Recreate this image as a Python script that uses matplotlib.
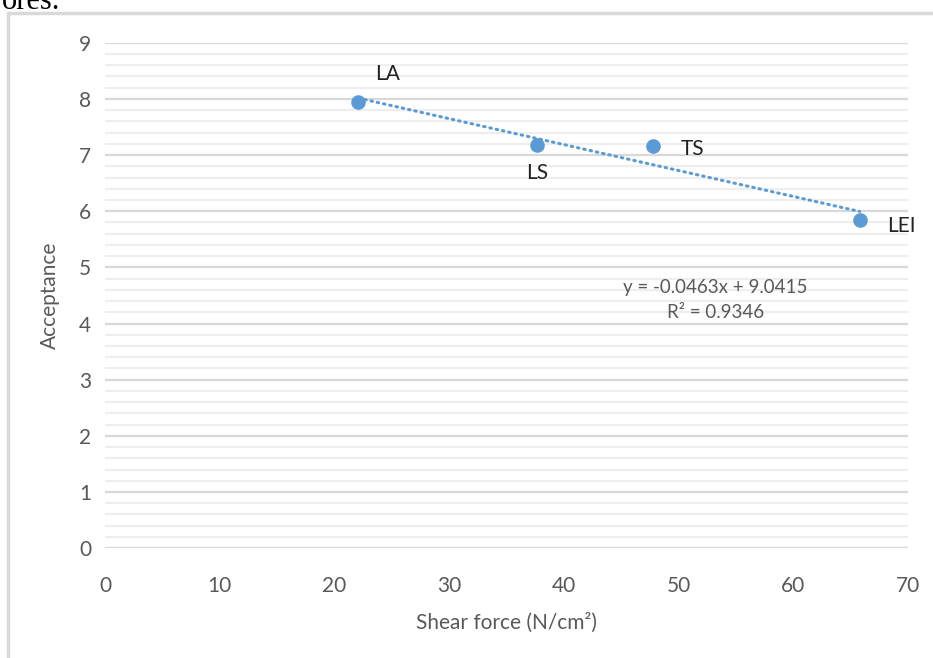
import numpy as np
import matplotlib.pyplot as plt
from matplotlib.patches import Rectangle

# data
labels = ['LA', 'LS', 'TS', 'LEI']
shear = [22.1, 37.7, 47.8, 65.8]
acceptance = [7.95, 7.18, 7.16, 5.84]
x_ticks = [0, 10, 20, 30, 40, 50, 60, 70]
y_ticks = [0, 1, 2, 3, 4, 5, 6, 7, 8, 9]

plt.rcParams['font.family'] = ['Lato', 'DejaVu Sans']
grey = '#595959'
blue = '#5b9bd5'

fig = plt.figure(figsize=(9.33, 6.58), dpi=100)
ax = fig.add_axes([0.1125, 0.167, 0.8605, 0.768])

# chart frame and the cut-off text above it
fig.patches.append(Rectangle((0.009, -0.05), 1.2, 1.03, transform=fig.transFigure,
                             fill=False, edgecolor='#d9d9d9', linewidth=2.5))
fig.text(0.002, 1 - 9 / 658, 'ores.', family='Liberation Serif', fontsize=22,
         ha='left', va='baseline', color='black')

# trendline
slope, intercept = np.polyfit(shear, acceptance, 1)
xs = np.array([min(shear), max(shear)])
ax.plot(xs, slope * xs + intercept, color=blue, linestyle=(0, (0.5, 1.6)),
        linewidth=2.2, dash_capstyle='round', zorder=3)

ax.plot(shear, acceptance, 'o', color=blue, markersize=9.5, zorder=4)

offsets = {'LA': (12, 20), 'LS': (0, -20), 'TS': (20, -2), 'LEI': (20, -4)}
for name, x, y in zip(labels, shear, acceptance):
    dx, dy = offsets[name]
    ax.annotate(name, (x, y), xytext=(dx, dy), textcoords='offset points',
                ha='left' if dx > 5 else 'center', va='center', fontsize=15,
                color='#222222')

ax.text(53.2, 4.65, 'y = -0.0463x + 9.0415', ha='center', va='center',
        fontsize=13.5, color=grey)
ax.text(53.2, 4.2, 'R² = 0.9346', ha='center', va='center',
        fontsize=13.5, color=grey)

ax.set_xlim(0, 70)
ax.set_ylim(0, 9)
ax.set_xticks(x_ticks)
ax.set_yticks(y_ticks)
ax.set_yticks(np.arange(0, 9, 0.2), minor=True)
ax.grid(which='major', axis='y', color='#d9d9d9', linewidth=1.6)
ax.grid(which='minor', axis='y', color='#eeeeee', linewidth=1.6)
ax.set_axisbelow(True)
for s in ax.spines.values():
    s.set_visible(False)
ax.tick_params(which='both', length=0, labelsize=15, colors=grey)
ax.tick_params(axis='x', pad=20)
ax.tick_params(axis='y', pad=10)

ax.set_xlabel('Shear force (N/cm²)', fontsize=15, color=grey, labelpad=12)
ax.set_ylabel('Acceptance', fontsize=15, color=grey, labelpad=14)

fig.savefig('out.png', dpi=100)
